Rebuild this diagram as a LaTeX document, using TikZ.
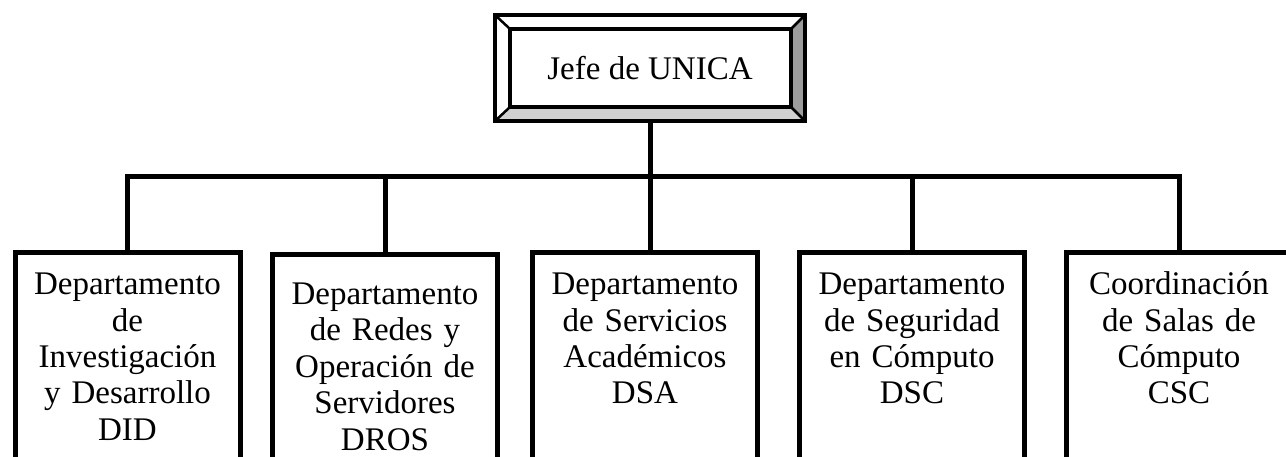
\documentclass[tikz,border=0pt]{standalone}
\usepackage{fontspec}
\setmainfont{Liberation Serif}
\usepackage{tikz}
\usetikzlibrary{calc}

\definecolor{bevellow}{HTML}{D0D0D0}
\definecolor{bevelside}{HTML}{9C9C9C}

\tikzset{
  unit/.style={draw, line width=5pt, anchor=north, minimum width=225pt,
    text width=210pt, align=center, inner xsep=7.5pt, inner ysep=20pt,
    text height=22pt, text depth=200pt},
  link/.style={line width=5pt},
  frame/.style={line width=4.5pt},
  corner/.style={line width=2.5pt}
}

\begin{document}
\begin{tikzpicture}[x=1pt, y=-1pt, font=\fontsize{33}{36.5}\selectfont]
  \useasboundingbox (0,0) rectangle (1286,457);
  \clip (0,0) rectangle (1286,457);

  % head of the unit
  \node (jefe) [minimum width=310pt, minimum height=106pt, inner sep=0pt] at (650,68) {Jefe de UNICA};
  \coordinate (inw) at ([shift={(15,14)}]jefe.north west);
  \coordinate (ine) at ([shift={(-14,14)}]jefe.north east);
  \coordinate (ise) at ([shift={(-14,-14)}]jefe.south east);
  \coordinate (isw) at ([shift={(15,-14)}]jefe.south west);
  \fill[bevellow] (jefe.south west) -- (isw) -- (ise) -- (jefe.south east) -- cycle;
  \fill[bevelside] (jefe.north east) -- (ine) -- (ise) -- (jefe.south east) -- cycle;
  \draw[corner] (jefe.north west) -- (inw) (jefe.north east) -- (ine)
    (jefe.south east) -- (ise) (jefe.south west) -- (isw);
  \draw[frame] (jefe.north west) rectangle (jefe.south east);
  \draw[frame] (inw) rectangle (ise);

  % departments
  \node (did) [unit] at (127.5,250) {Departamento\\de\\Investigación\\y Desarrollo\\DID};
  \node (dros) [unit, inner ysep=28pt] at (385,252) {Departamento\\de Redes y\\Operación de\\Servidores\\DROS};
  \node (dsa) [unit] at (645,250) {Departamento\\de Servicios\\Académicos\\DSA};
  \node (dsc) [unit] at (912,250) {Departamento\\de Seguridad\\en Cómputo\\DSC};
  \node (csc) [unit] at (1179,250) {Coordinación\\de Salas de\\Cómputo\\CSC};

  \coordinate (bus) at (651,177);
  \draw[link] (did.north) |- (bus) -| (csc.north);
  \draw[link] (dros.north) -- (dros.north |- bus);
  \draw[link] (jefe.south) -- (jefe.south |- dsa.north);
  \draw[link] (dsc.north) -- (dsc.north |- bus);
\end{tikzpicture}
\end{document}
